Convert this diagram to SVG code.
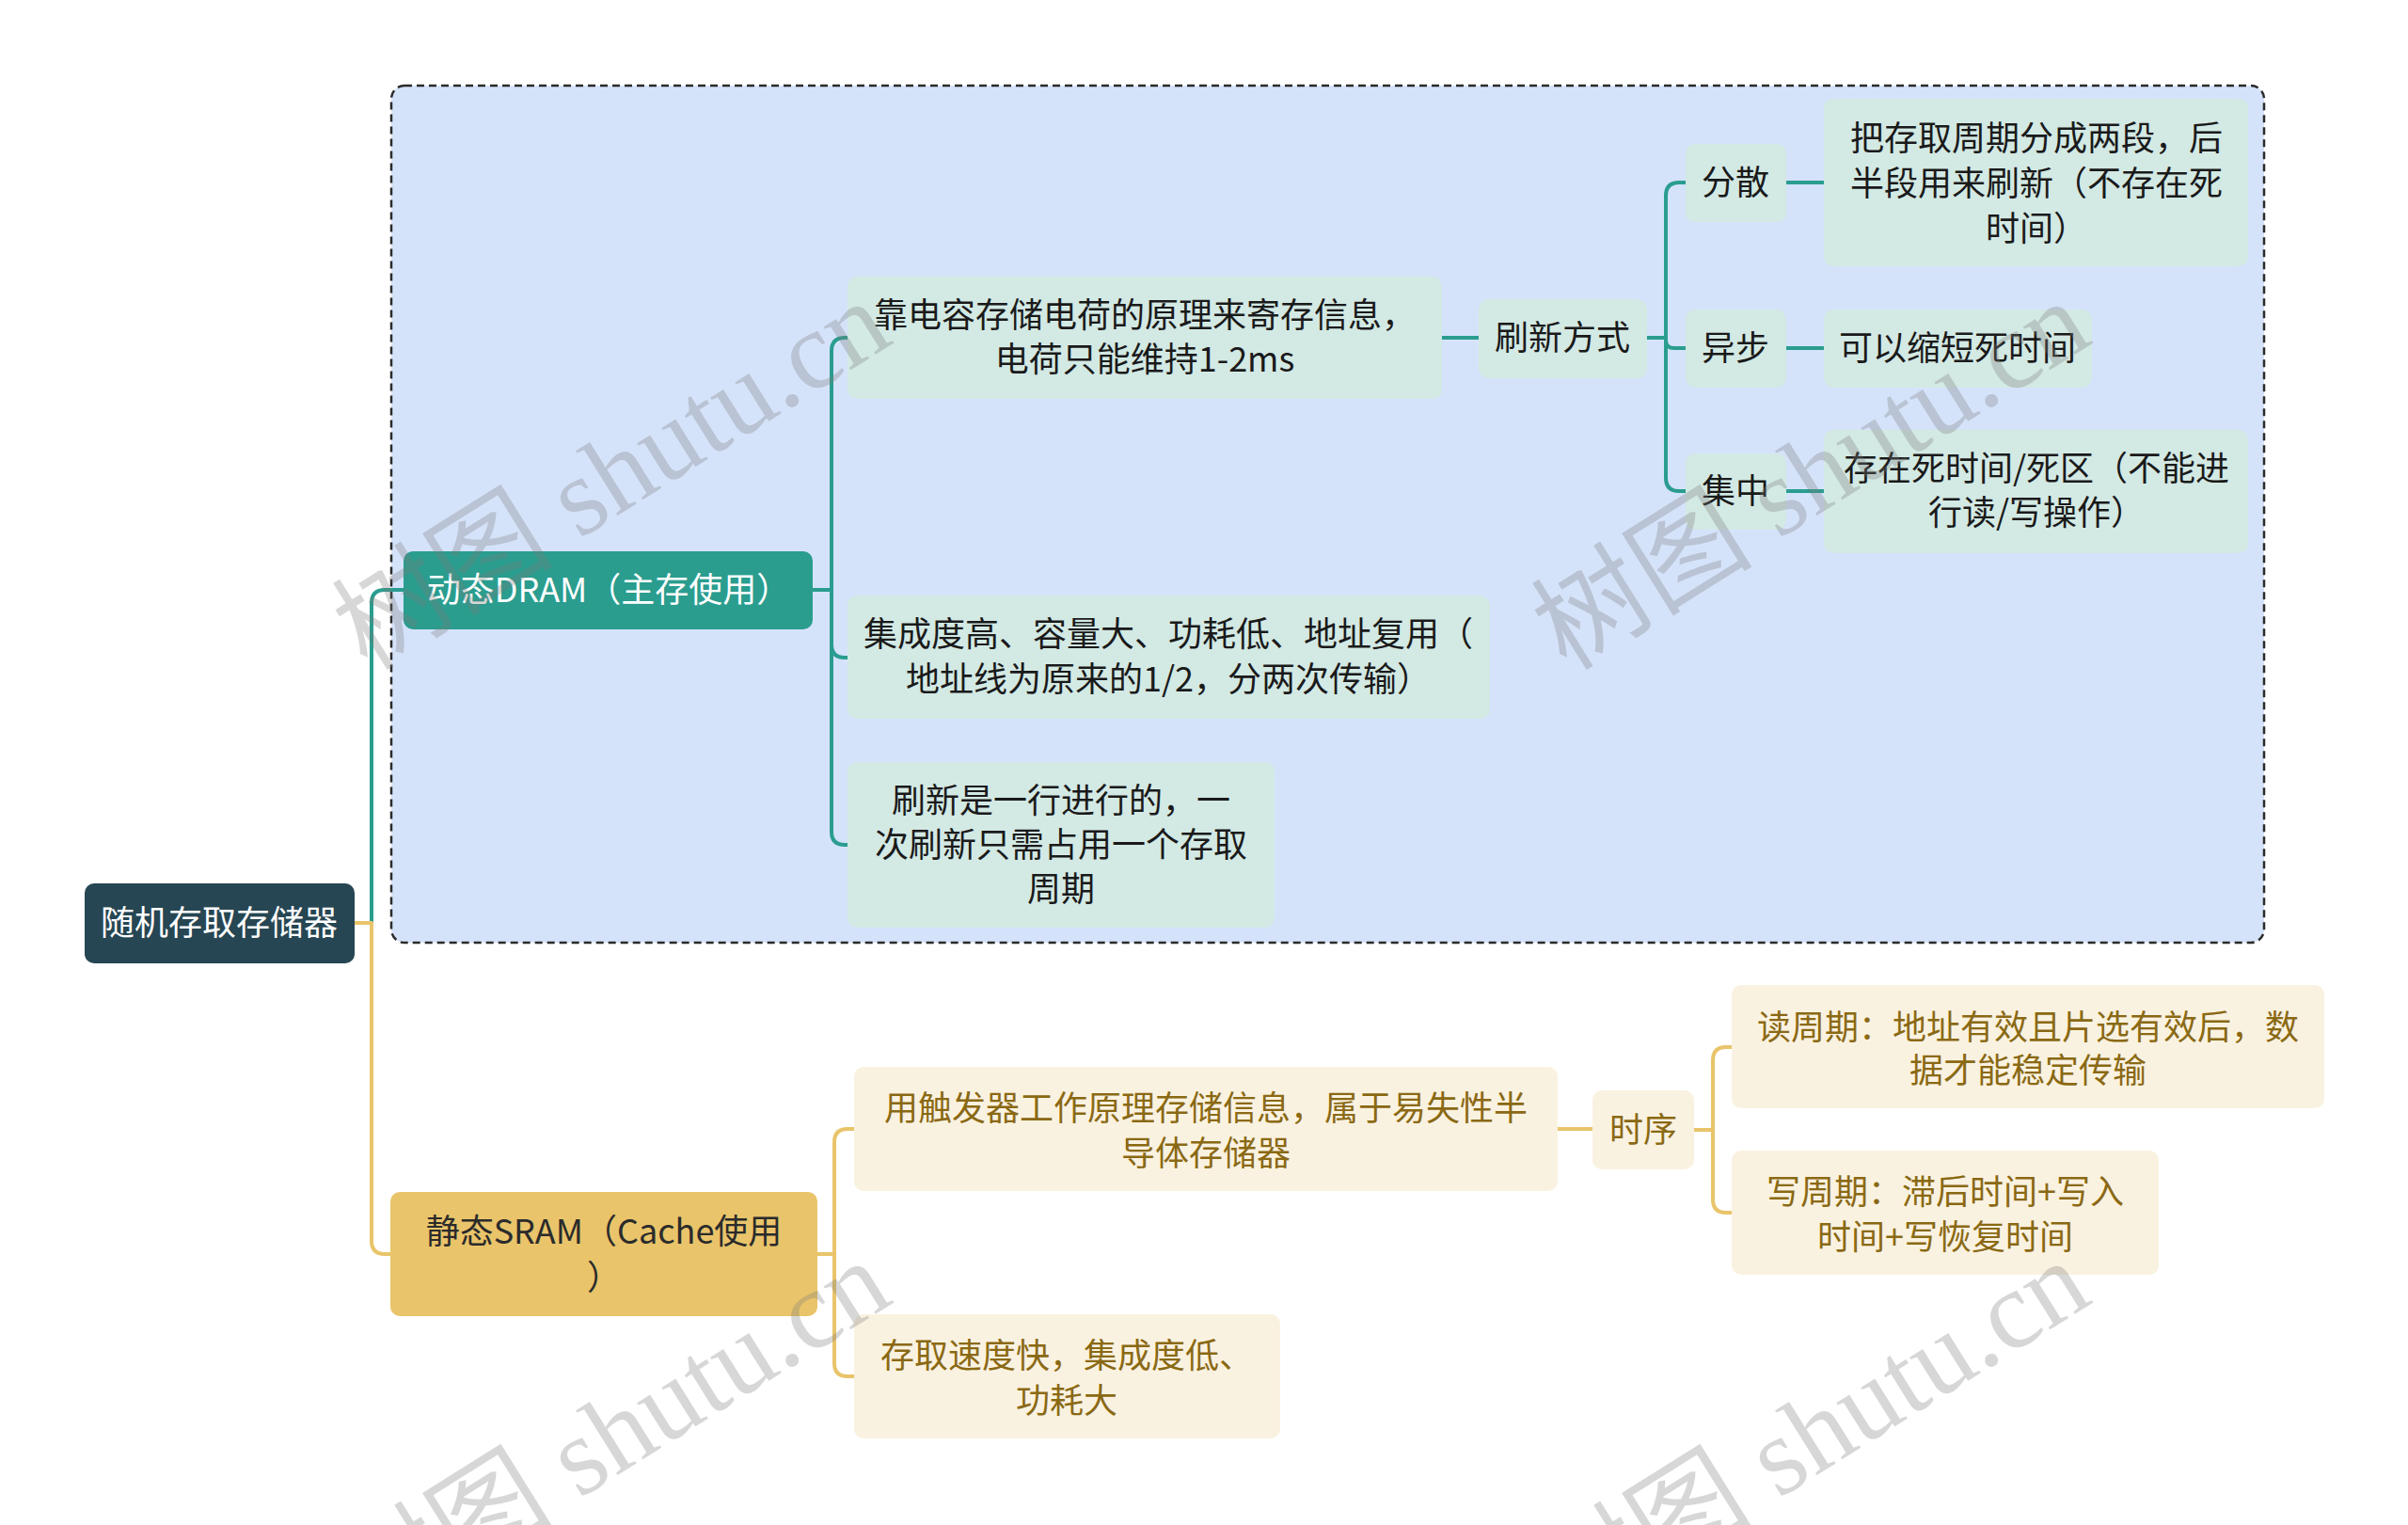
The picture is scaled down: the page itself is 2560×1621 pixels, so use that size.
<svg xmlns="http://www.w3.org/2000/svg" width="2560" height="1621" viewBox="0 0 2560 1621">
<style>
text{font-family:"Noto Sans CJK SC","Liberation Sans",sans-serif;font-size:36px;text-anchor:middle}
.c{fill:none;stroke-width:4;stroke-linecap:butt;stroke-linejoin:round}
.ct{stroke:#2a9d8f}
.cy{stroke:#e9c46a}
.lt{fill:#d3e9e4}
.ly{fill:#faf2e0}
.tk{fill:#1a1a1a}
.tb{fill:#8a6914}
.wm{font-family:"Liberation Serif","Noto Sans CJK SC",serif;font-size:118px;fill:#7a7a7a;fill-opacity:0.3;text-anchor:middle}
</style>
<rect width="2560" height="1621" fill="#ffffff"/>
<g id="dram-region">
<rect x="416" y="91" width="1991" height="911" rx="14" fill="#d5e3fa" stroke="#2b2b2b" stroke-width="2.5" stroke-dasharray="8 5"/>
</g>
<g id="connectors">
<path class="c ct" d="M377,981 H395 V641 Q395,627 409,627 H429"/>
<path class="c cy" d="M377,981 H395 V1319 Q395,1333 409,1333 H415"/>
<path class="c ct" d="M864,627 H884 V373 Q884,359 898,359 H901"/>
<path class="c ct" d="M884,627 V685 Q884,699 898,699 H901"/>
<path class="c ct" d="M884,627 V884 Q884,898 898,898 H901"/>
<path class="c ct" d="M1533,359 H1572"/>
<path class="c ct" d="M1751,359 H1771 V208 Q1771,194 1785,194 H1792"/>
<path class="c ct" d="M1771,359 V362 Q1771,370 1780,370 H1792"/>
<path class="c ct" d="M1771,359 V508 Q1771,522 1785,522 H1792"/>
<path class="c ct" d="M1899,194 H1939"/>
<path class="c ct" d="M1899,370 H1939"/>
<path class="c ct" d="M1899,522 H1939"/>
<path class="c cy" d="M869,1333 H887 V1214 Q887,1200 901,1200 H908"/>
<path class="c cy" d="M887,1333 V1449 Q887,1463 901,1463 H908"/>
<path class="c cy" d="M1656,1200 H1693"/>
<path class="c cy" d="M1801,1201 H1821 V1127 Q1821,1113 1835,1113 H1841"/>
<path class="c cy" d="M1821,1201 V1275 Q1821,1289 1835,1289 H1841"/>
</g>
<g id="root">
<rect x="90" y="939" width="287" height="85" rx="10" fill="#264653"/>
<text x="233" y="994" fill="#ffffff">随机存取存储器</text>
</g>
<g id="dram">
<rect x="429" y="586" width="435" height="83" rx="10" fill="#2a9d8f"/>
<text x="647" y="640" fill="#ffffff">动态DRAM（主存使用）</text>
</g>
<g id="dram-principle">
<rect class="lt" x="901" y="294" width="632" height="130" rx="10"/>
<text class="tk"><tspan x="1217" y="348">靠电容存储电荷的原理来寄存信息，</tspan><tspan x="1217" y="395">电荷只能维持1-2ms</tspan></text>
</g>
<g id="refresh-mode">
<rect class="lt" x="1572" y="318" width="179" height="84" rx="10"/>
<text class="tk" x="1661" y="372">刷新方式</text>
</g>
<g id="scatter">
<rect class="lt" x="1792" y="153" width="107" height="83" rx="10"/>
<text class="tk" x="1845" y="207">分散</text>
</g>
<g id="scatter-desc">
<rect class="lt" x="1939" y="105" width="451" height="178" rx="10"/>
<text class="tk"><tspan x="2165" y="160">把存取周期分成两段，后</tspan><tspan x="2165" y="208">半段用来刷新（不存在死</tspan><tspan x="2165" y="256">时间）</tspan></text>
</g>
<g id="async">
<rect class="lt" x="1792" y="329" width="107" height="83" rx="10"/>
<text class="tk" x="1845" y="383">异步</text>
</g>
<g id="async-desc">
<rect class="lt" x="1939" y="329" width="285" height="83" rx="10"/>
<text class="tk" x="2081" y="383">可以缩短死时间</text>
</g>
<g id="central">
<rect class="lt" x="1792" y="482" width="107" height="81" rx="10"/>
<text class="tk" x="1845" y="535">集中</text>
</g>
<g id="central-desc">
<rect class="lt" x="1939" y="457" width="451" height="131" rx="10"/>
<text class="tk"><tspan x="2165" y="511">存在死时间/死区（不能进</tspan><tspan x="2165" y="558">行读/写操作）</tspan></text>
</g>
<g id="dram-features">
<rect class="lt" x="901" y="633" width="683" height="131" rx="10"/>
<text class="tk"><tspan x="1242" y="687">集成度高、容量大、功耗低、地址复用（</tspan><tspan x="1242" y="735">地址线为原来的1/2，分两次传输）</tspan></text>
</g>
<g id="dram-refresh">
<rect class="lt" x="901" y="810" width="454" height="176" rx="10"/>
<text class="tk"><tspan x="1128" y="864">刷新是一行进行的，一</tspan><tspan x="1128" y="911">次刷新只需占用一个存取</tspan><tspan x="1128" y="958">周期</tspan></text>
</g>
<g id="sram">
<rect x="415" y="1267" width="454" height="132" rx="10" fill="#e9c46a"/>
<text fill="#2b2b2b"><tspan x="642" y="1322">静态SRAM（Cache使用</tspan><tspan x="642" y="1371">）</tspan></text>
</g>
<g id="sram-principle">
<rect class="ly" x="908" y="1134" width="748" height="132" rx="10"/>
<text class="tb"><tspan x="1282" y="1191">用触发器工作原理存储信息，属于易失性半</tspan><tspan x="1282" y="1239">导体存储器</tspan></text>
</g>
<g id="timing">
<rect class="ly" x="1693" y="1159" width="108" height="84" rx="10"/>
<text class="tb" x="1747" y="1214">时序</text>
</g>
<g id="read-cycle">
<rect class="ly" x="1841" y="1047" width="630" height="131" rx="10"/>
<text class="tb"><tspan x="2156" y="1105">读周期：地址有效且片选有效后，数</tspan><tspan x="2156" y="1151">据才能稳定传输</tspan></text>
</g>
<g id="write-cycle">
<rect class="ly" x="1841" y="1223" width="454" height="132" rx="10"/>
<text class="tb"><tspan x="2068" y="1280">写周期：滞后时间+写入</tspan><tspan x="2068" y="1328">时间+写恢复时间</tspan></text>
</g>
<g id="sram-features">
<rect class="ly" x="908" y="1397" width="453" height="132" rx="10"/>
<text class="tb"><tspan x="1134" y="1454">存取速度快，集成度低、</tspan><tspan x="1134" y="1502">功耗大</tspan></text>
</g>
<g id="watermarks">
<text class="wm" transform="translate(650,505) rotate(-32)" y="40">树图 shutu.cn</text>
<text class="wm" transform="translate(1925,505) rotate(-32)" y="40">树图 shutu.cn</text>
<text class="wm" transform="translate(650,1525) rotate(-32)" y="40">树图 shutu.cn</text>
<text class="wm" transform="translate(1925,1525) rotate(-32)" y="40">树图 shutu.cn</text>
</g>
</svg>
